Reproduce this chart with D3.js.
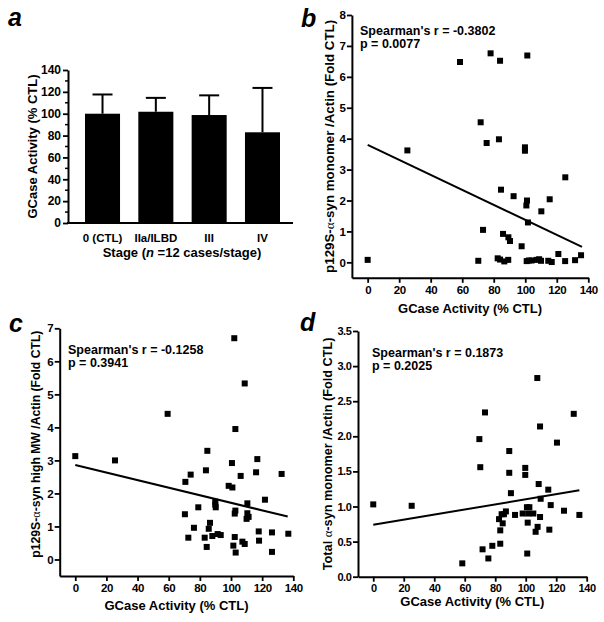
<!DOCTYPE html>
<html><head><meta charset="utf-8">
<script src="https://cdn.jsdelivr.net/npm/d3@7/dist/d3.min.js"></script>
<style>
html,body{margin:0;padding:0;background:#fff;}
svg text{font-family:"Liberation Sans",Arial,Helvetica,sans-serif;font-weight:bold;fill:#000;}
</style></head>
<body>
<svg id="chart" width="604" height="622"></svg>
<script>
// ---------- DATA ----------
// Panel a
const stageCats = ["0 (CTL)", "IIa/ILBD", "III", "IV"];
const stageMeans = [100, 101.8, 98.8, 83];
const stageErrTop = [117.6, 114.5, 116.8, 123.6];
const aTicks = [0, 20, 40, 60, 80, 100, 120, 140];

// Panel b : p129S monomer
const bX = [0, 25.2, 58.6, 78, 84, 101.3, 71.7, 75.5, 83.3, 99.8, 99.8, 125.4, 84.6, 92.6, 101.1, 100.7, 115.5, 110.2, 101.7, 73.2, 85.9, 89.3, 90.3, 97.7,
            70.2, 82.5, 84, 86.7, 89.2, 100.9, 102.3, 104, 107.2, 108.8, 110, 114.6, 116.8, 121, 125.3, 131.6, 135.4];
const bY = [0.08, 3.62, 6.48, 6.76, 6.52, 6.69, 4.53, 3.86, 3.98, 3.72, 3.61, 2.75, 2.35, 2.14, 2.0, 1.84, 2.04, 1.65, 1.29, 1.05, 0.92, 0.81, 0.69, 0.52,
            0.05, 0.13, 0.09, 0.03, 0.08, 0.04, 0.06, 0.06, 0.08, 0.1, 0.05, 0.05, 0.01, 0.27, 0.04, 0.07, 0.23];
const bLineX = [0, 136];
const bLineY = [3.80, 0.50];
const bTicksY = [0, 1, 2, 3, 4, 5, 6, 7, 8];

// Panel c : p129S high MW
const cX = [0, 25.5, 59.3, 102.1, 108.8, 102.8, 84.8, 83.9, 70.7, 74.1, 100.6, 116.9, 116.1, 106.2, 132.5, 98.5, 100.9, 121.8, 89.9, 89.9, 90.2, 79, 70.4,
            102.8, 102.4, 110.5, 110.5, 110, 111.3, 86.5, 85.7, 76.2, 72.6, 83.1, 88, 91.4, 93.4, 84.4, 102.4, 101.5, 103, 107.3, 108.8, 117.8, 118, 126.3, 126.3, 136.8];
const cY = [3.13, 3.0, 4.41, 6.70, 5.33, 3.95, 3.29, 2.70, 2.35, 2.57, 2.92, 3.04, 2.64, 2.53, 2.59, 2.23, 2.18, 1.81, 1.75, 1.66, 1.58, 1.58, 1.37,
            1.48, 1.39, 1.70, 1.40, 1.23, 1.29, 1.11, 0.93, 0.96, 0.66, 0.66, 0.71, 0.77, 0.74, 0.38, 0.68, 0.42, 0.21, 0.54, 0.47, 0.85, 0.57, 0.82, 0.23, 0.78];
const cLineX = [0, 136.4];
const cLineY = [2.86, 1.30];
const cTicksY = [0, 1, 2, 3, 4, 5, 6, 7];

// Panel d : total monomer
const dX = [0, 25.2, 58.4, 73.3, 69.6, 70.2, 71.7, 75.5, 78.1, 83.3, 83.3, 82.5, 84.2, 84.9, 85.7, 87, 89.2, 89.2, 90.3, 93, 98, 99.7, 99.7, 100.8, 101.7,
            101.3, 101, 102.4, 105, 106.5, 107.6, 107.8, 108.5, 109.4, 109.8, 109.4, 114.8, 115.5, 116.4, 120.5, 125.1, 131.5, 135.2];
const dY = [1.03, 1.01, 0.19, 2.34, 1.96, 1.56, 0.39, 0.26, 0.44, 0.47, 0.66, 0.82, 0.89, 0.76, 0.89, 0.93, 1.79, 1.48, 1.19, 0.88, 0.90, 1.55, 1.45, 0.99, 0.90,
            0.77, 0.33, 0.99, 0.90, 0.64, 2.83, 0.71, 1.32, 2.14, 1.11, 0.85, 1.24, 0.67, 1.02, 1.91, 0.94, 2.32, 0.88];
const dLineX = [0, 135.2];
const dLineY = [0.74, 1.23];
const dTicksY = [0, 0.5, 1.0, 1.5, 2.0, 2.5, 3.0, 3.5];

const xTicks = [0, 20, 40, 60, 80, 100, 120, 140];

// ---------- DRAW ----------
const svg = d3.select("#chart");
const AX_W = 2;

function styleAxis(g, fs, ls) {
  g.select(".domain").attr("stroke", "#000").attr("stroke-width", AX_W);
  g.selectAll(".tick line").attr("stroke", "#000").attr("stroke-width", 1.8);
  g.selectAll(".tick text").attr("fill", "#000").style("font-size", fs + "px").style("letter-spacing", (ls == null ? -0.4 : ls) + "px");
}

function panelLetter(txt, x, y) {
  svg.append("text").attr("x", x).attr("y", y).text(txt)
    .style("font-size", "25px").style("font-style", "italic");
}

// ---- Panel a ----
(function () {
  const y = d3.scaleLinear().domain([0, 140]).range([223, 70]);
  const x = d3.scaleBand().domain(stageCats).range([85, 280]).paddingInner(0.343).paddingOuter(0);
  const g = svg.append("g");
  // minor ticks
  const minor = d3.range(10, 140, 20);
  g.selectAll(".minor").data(minor).join("line")
    .attr("x1", 68).attr("x2", 65).attr("y1", d => y(d)).attr("y2", d => y(d))
    .attr("stroke", "#000").attr("stroke-width", 1.5);
  const yAx = g.append("g").attr("transform", "translate(68,0)")
    .call(d3.axisLeft(y).tickValues(aTicks).tickSize(5).tickPadding(2).tickSizeOuter(0));
  styleAxis(yAx, 12, 0);
  // bars
  g.selectAll(".bar").data(stageCats).join("rect")
    .attr("x", d => x(d)).attr("width", x.bandwidth())
    .attr("y", (d, i) => y(stageMeans[i])).attr("height", (d, i) => y(0) - y(stageMeans[i]))
    .attr("fill", "#000");
  // error bars
  g.selectAll(".err").data(stageCats).join("line")
    .attr("x1", d => x(d) + x.bandwidth() / 2).attr("x2", d => x(d) + x.bandwidth() / 2)
    .attr("y1", (d, i) => y(stageMeans[i])).attr("y2", (d, i) => y(stageErrTop[i]))
    .attr("stroke", "#000").attr("stroke-width", 2);
  g.selectAll(".cap").data(stageCats).join("line")
    .attr("x1", d => x(d) + x.bandwidth() / 2 - 10).attr("x2", d => x(d) + x.bandwidth() / 2 + 10)
    .attr("y1", (d, i) => y(stageErrTop[i])).attr("y2", (d, i) => y(stageErrTop[i]))
    .attr("stroke", "#000").attr("stroke-width", 2);
  // x axis line
  g.append("line").attr("x1", 67).attr("x2", 293).attr("y1", y(0)).attr("y2", y(0))
    .attr("stroke", "#000").attr("stroke-width", AX_W);
  const xAx = g.append("g").attr("transform", "translate(0," + y(0) + ")")
    .call(d3.axisBottom(x).tickSize(0).tickPadding(11));
  xAx.select(".domain").remove();
  xAx.selectAll(".tick text").style("font-size", "11.5px").attr("fill", "#000");
  // titles
  const t = g.append("text").attr("x", 182).attr("y", 257).attr("text-anchor", "middle").style("font-size", "13px");
  t.append("tspan").text("Stage (");
  t.append("tspan").text("n").style("font-style", "italic");
  t.append("tspan").text(" =12 cases/stage)");
  g.append("text").attr("transform", "translate(37," + (y(70)) + ") rotate(-90)")
    .attr("text-anchor", "middle").style("font-size", "13px").text("GCase Activity (% CTL)");
  panelLetter("a", 8, 26);
})();

// ---- Scatter panels ----
function scatter(o) {
  const x = d3.scaleLinear().domain([-10, 140]).range(o.xr);
  const y = d3.scaleLinear().domain(o.yd).range(o.yr);
  const g = svg.append("g");
  const yAx = g.append("g").attr("transform", "translate(" + o.xr[0] + ",0)")
    .call(d3.axisLeft(y).tickValues(o.yt).tickFormat(o.fmt).tickSize(5).tickPadding(1.5).tickSizeOuter(0));
  styleAxis(yAx, o.tfs);
  const xAx = g.append("g").attr("transform", "translate(0," + o.yr[0] + ")")
    .call(d3.axisBottom(x).tickValues(xTicks).tickFormat(d3.format("d")).tickSize(5).tickPadding(3).tickSizeOuter(0));
  styleAxis(xAx, o.tfs);
  // regression line
  g.append("line")
    .attr("x1", x(o.lx[0])).attr("y1", y(o.ly[0]))
    .attr("x2", x(o.lx[1])).attr("y2", y(o.ly[1]))
    .attr("stroke", "#000").attr("stroke-width", 2);
  // points
  const s = 6;
  g.selectAll(".pt").data(o.xs).join("rect")
    .attr("x", d => x(d) - s / 2).attr("y", (d, i) => y(o.ys[i]) - s / 2)
    .attr("width", s).attr("height", s).attr("fill", "#000");
  // annotation
  g.append("text").attr("x", o.ann[0]).attr("y", o.ann[1]).style("font-size", "12.5px").text(o.r);
  g.append("text").attr("x", o.ann[0]).attr("y", o.ann[1] + 12.5).style("font-size", "12.5px").text(o.p);
  // x title
  g.append("text").attr("x", (o.xr[0] + o.xr[1]) / 2).attr("y", o.xty)
    .attr("text-anchor", "middle").style("font-size", "13px").text("GCase Activity (% CTL)");
  // y title
  const yt = g.append("text").attr("transform", "translate(" + o.ytx + "," + ((o.yr[0] + o.yr[1]) / 2 + (o.ytdy || 0)) + ") rotate(-90)")
    .attr("text-anchor", "middle").style("font-size", o.ytfs + "px");
  yt.append("tspan").text(o.yt1);
  yt.append("tspan").text("α").style("font-family", "'Liberation Serif','DejaVu Serif',serif").style("font-weight", "normal");
  yt.append("tspan").text(o.yt2);
  panelLetter(o.letter, o.lpos[0], o.lpos[1]);
}

scatter({
  xr: [351.9, 588.3], yd: [-0.5, 8], yr: [277.8, 15], yt: bTicksY, fmt: d3.format("d"), tfs: 11.5,
  xs: bX, ys: bY, lx: bLineX, ly: bLineY,
  ann: [360, 35], r: "Spearman's r = -0.3802", p: "p = 0.0077",
  xty: 312.5, ytx: 334, ytfs: 13.3, yt1: "p129S-", yt2: "-syn monomer /Actin (Fold CTL)",
  letter: "b", lpos: [301, 27]
});
scatter({
  xr: [59.7, 293.3], yd: [-0.5, 7], yr: [576, 328.3], yt: cTicksY, fmt: d3.format("d"), tfs: 11.5,
  xs: cX, ys: cY, lx: cLineX, ly: cLineY,
  ann: [68, 354], r: "Spearman's r = -0.1258", p: "p = 0.3941",
  xty: 609.5, ytx: 40, ytfs: 12.2, ytdy: -8, yt1: "p129S-", yt2: "-syn high MW /Actin (Fold CTL)",
  letter: "c", lpos: [9, 332]
});
scatter({
  xr: [358, 586.7], yd: [0, 3.5], yr: [576.7, 331], yt: dTicksY, fmt: d3.format(".1f"), tfs: 11,
  xs: dX, ys: dY, lx: dLineX, ly: dLineY,
  ann: [372, 357.3], r: "Spearman's r = 0.1873", p: "p = 0.2025",
  xty: 606, ytx: 332, ytfs: 12.7, ytdy: 0, yt1: "Total ", yt2: "-syn monomer /Actin (Fold CTL)",
  letter: "d", lpos: [300, 331]
});
</script>
</body></html>
